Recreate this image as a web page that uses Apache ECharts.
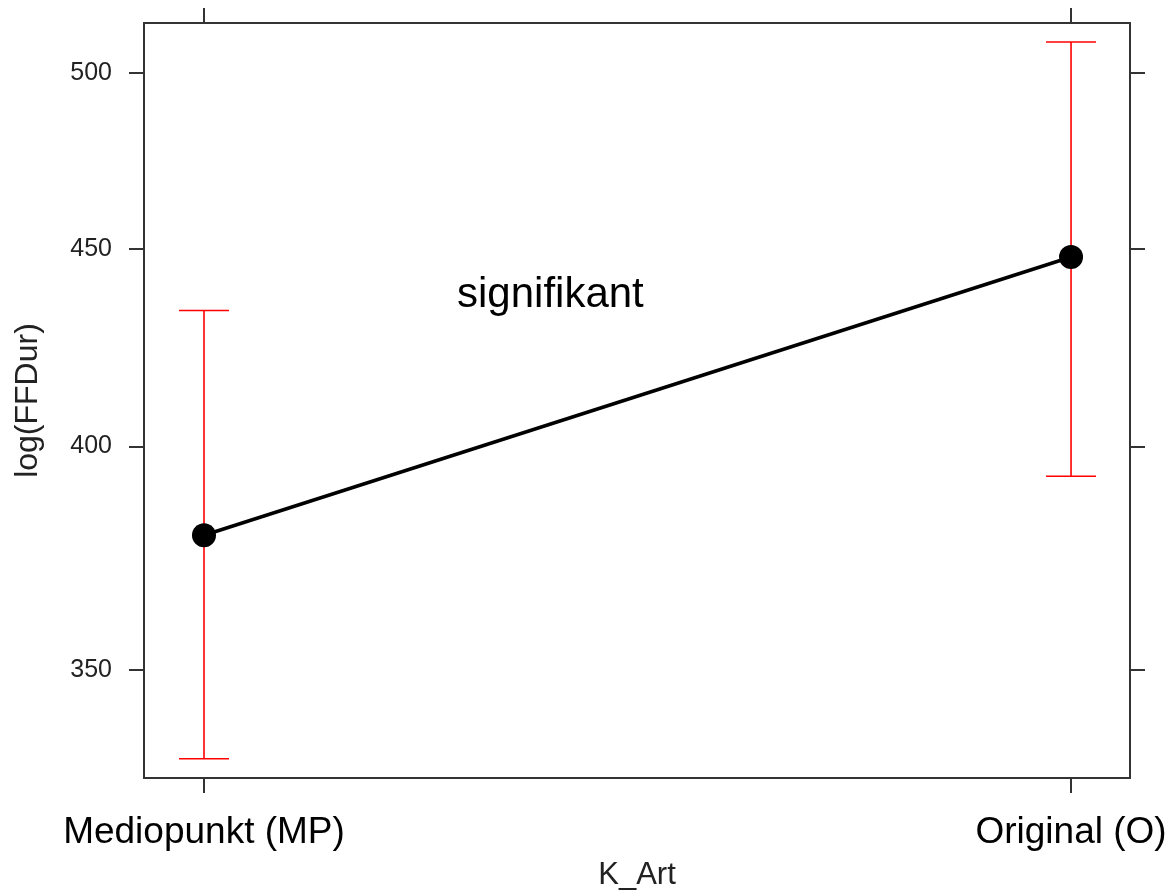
<!DOCTYPE html>
<html>
<head>
<meta charset="utf-8">
<script src="https://cdn.jsdelivr.net/npm/echarts@6/dist/echarts.min.js"></script>
<style>
  html, body { margin: 0; padding: 0; background: #fff; }
  #chart { width: 1168px; height: 893px; }
</style>
</head>
<body>
<div id="chart"></div>
<script>
var categories = ['Mediopunkt (MP)', 'Original (O)'];
var fitValues = [379.3, 447.9];
var lowerValues = [331.9, 392.9];
var upperValues = [433.8, 509.3];
var yTicks = [350, 400, 450, 500];

var myChart = echarts.init(document.getElementById('chart'));

var linePoints = [];
var barPoints = [];
categories.forEach(function (c, i) {
  linePoints.push([i, fitValues[i]]);
  barPoints.push([i, lowerValues[i], upperValues[i]]);
});

var xMin = -0.0692, xMax = 1.068;
var yMin = 328.1, yMax = 515.1;
var boxColor = '#333';

function errorBar(params, api) {
  var lo = api.coord([api.value(0), api.value(1)]);
  var hi = api.coord([api.value(0), api.value(2)]);
  var w = 25;
  var st = { stroke: '#ff0000', lineWidth: 1.6 };
  return {
    type: 'group',
    children: [
      { type: 'line', shape: { x1: lo[0], y1: lo[1], x2: hi[0], y2: hi[1] }, style: st },
      { type: 'line', shape: { x1: lo[0] - w, y1: lo[1], x2: lo[0] + w, y2: lo[1] }, style: st },
      { type: 'line', shape: { x1: hi[0] - w, y1: hi[1], x2: hi[0] + w, y2: hi[1] }, style: st }
    ]
  };
}

var option = {
  animation: false,
  textStyle: { fontFamily: 'Liberation Sans, Arial, sans-serif' },
  grid: { left: 144, right: 38, top: 23, bottom: 115, outerBoundsMode: 'none', containLabel: false },
  xAxis: [
    {
      type: 'value',
      position: 'bottom',
      min: xMin,
      max: xMax,
      name: 'K_Art',
      nameLocation: 'middle',
      nameGap: 82,
      nameTextStyle: { fontSize: 31, color: '#222' },
      axisLine: { onZero: false, lineStyle: { color: boxColor, width: 2 } },
      axisTick: { length: 15, customValues: [0, 1], lineStyle: { color: boxColor, width: 2 } },
      axisLabel: {
        customValues: [0, 1],
        margin: 36,
        fontSize: 37,
        color: '#000',
        formatter: function (v) { return categories[Math.round(v)]; }
      },
      splitLine: { show: false }
    },
    {
      type: 'value',
      position: 'top',
      min: xMin,
      max: xMax,
      axisLine: { onZero: false, lineStyle: { color: boxColor, width: 2 } },
      axisTick: { length: 15, customValues: [0, 1], lineStyle: { color: boxColor, width: 2 } },
      axisLabel: { show: false },
      splitLine: { show: false }
    }
  ],
  yAxis: [
    {
      type: 'log',
      position: 'left',
      min: yMin,
      max: yMax,
      name: 'log(FFDur)',
      nameLocation: 'middle',
      nameGap: 100,
      nameTextStyle: { fontSize: 32, color: '#222' },
      axisLine: { onZero: false, lineStyle: { color: boxColor, width: 2 } },
      axisTick: { length: 15, customValues: yTicks, lineStyle: { color: boxColor, width: 2 } },
      axisLabel: { customValues: yTicks, margin: 32, fontSize: 25, color: '#222' },
      splitLine: { show: false }
    },
    {
      type: 'log',
      position: 'right',
      min: yMin,
      max: yMax,
      axisLine: { onZero: false, lineStyle: { color: boxColor, width: 2 } },
      axisTick: { length: 15, customValues: yTicks, lineStyle: { color: boxColor, width: 2 } },
      axisLabel: { show: false },
      splitLine: { show: false }
    }
  ],
  graphic: [
    {
      type: 'text',
      left: 457,
      top: 274,
      style: { text: 'signifikant', fontSize: 42, fill: '#000', fontFamily: 'Liberation Sans, Arial, sans-serif' }
    }
  ],
  series: [
    {
      type: 'custom',
      xAxisIndex: 0,
      yAxisIndex: 0,
      renderItem: errorBar,
      encode: { x: 0, y: [1, 2] },
      data: barPoints,
      z: 1
    },
    {
      type: 'line',
      xAxisIndex: 0,
      yAxisIndex: 0,
      data: linePoints,
      symbol: 'circle',
      symbolSize: 24,
      itemStyle: { color: '#000' },
      lineStyle: { color: '#000', width: 3.5 },
      z: 2
    }
  ]
};

myChart.setOption(option);
</script>
</body>
</html>
